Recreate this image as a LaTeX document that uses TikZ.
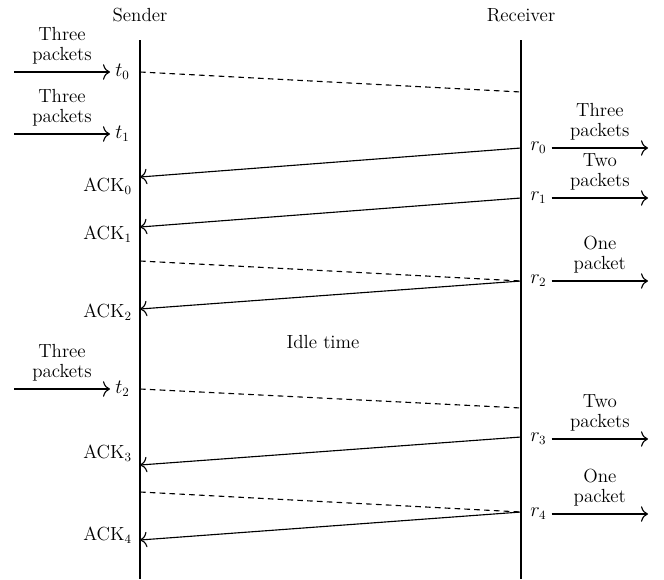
\documentclass[tikz,border=0pt]{standalone}
\usetikzlibrary{positioning}
\usetikzlibrary{arrows.meta}

\begin{document}
\begin{tikzpicture}[x=0.025cm, y=-0.025cm, line width=0.8pt,
    font=\fontsize{13.5}{14}\selectfont, >={To[length=5pt,width=11pt]}]
            \tikzset{
                msg/.style={->},
                ctrl/.style={dashed, dash pattern=on 4pt off 3pt},
                pkts/.style={midway, above=5.5pt, align=center, inner sep=0pt},
            }
            \useasboundingbox (0,0) rectangle (664,579);

            % Lanes
            \node (sender) at (140,15) {Sender};
            \node (receiver) at (521,15) {Receiver};
            \coordinate (stop) at (140,40);
            \coordinate (sbot) at (140,579);
            \coordinate (rtop) at (521,40);
            \coordinate (rbot) at (521,579);
            \draw (stop) -- (sbot);
            \draw (rtop) -- (rbot);

            % Sender side
            \node[anchor=west] (t0) at (110,72) {$t_0$};
            \node[anchor=west] (t1) at (110,134) {$t_1$};
            \node[anchor=west] (t2) at (110,389) {$t_2$};
            \coordinate (in0) at (14,72);
            \coordinate (in1) at (14,134);
            \coordinate (in2) at (14,389);
            \draw[msg] (in0) -- (t0) node[pkts] {Three\\packets};
            \draw[msg] (in1) -- (t1) node[pkts] {Three\\packets};
            \draw[msg] (in2) -- (t2) node[pkts] {Three\\packets};

            \node[anchor=east] (ack0) at (137,186) {ACK$_0$};
            \node[anchor=east] (ack1) at (137,234) {ACK$_1$};
            \node[anchor=east] (ack2) at (137,312) {ACK$_2$};
            \node[anchor=east] (ack3) at (137,453) {ACK$_3$};
            \node[anchor=east] (ack4) at (137,535) {ACK$_4$};
            \coordinate (a0) at (140,177);
            \coordinate (a1) at (140,227);
            \coordinate (a2) at (140,309);
            \coordinate (a3) at (140,465);
            \coordinate (a4) at (140,540);

            % Receiver side
            \node[anchor=west] (r0) at (525,148) {$r_0$};
            \node[anchor=west] (r1) at (525,198) {$r_1$};
            \node[anchor=west] (r2) at (525,281) {$r_2$};
            \node[anchor=west] (r3) at (525,439) {$r_3$};
            \node[anchor=west] (r4) at (525,514) {$r_4$};
            \coordinate (out0) at (648,148);
            \coordinate (out1) at (648,198);
            \coordinate (out2) at (648,281);
            \coordinate (out3) at (648,439);
            \coordinate (out4) at (648,514);
            \draw[msg] (r0) -- (out0) node[pkts] {Three\\packets};
            \draw[msg] (r1) -- (out1) node[pkts] {Two\\packets};
            \draw[msg] (r2) -- (out2) node[pkts] {One\\packet};
            \draw[msg] (r3) -- (out3) node[pkts] {Two\\packets};
            \draw[msg] (r4) -- (out4) node[pkts] {One\\packet};
            \coordinate (b0) at (521,148);
            \coordinate (b1) at (521,198);
            \coordinate (b2) at (521,281);
            \coordinate (b3) at (521,437);
            \coordinate (b4) at (521,512);

            % Data (dashed) and ACKs
            \coordinate (d0) at (140,72);
            \coordinate (d1) at (140,261);
            \coordinate (d2) at (140,389);
            \coordinate (d3) at (140,492);
            \coordinate (e0) at (521,92);
            \coordinate (e2) at (521,408);
            \draw[ctrl] (d0) -- (e0);
            \draw[ctrl] (d1) -- (b2);
            \draw[ctrl] (d2) -- (e2);
            \draw[ctrl] (d3) -- (b4);

            \draw[msg] (b0) -- (a0);
            \draw[msg] (b1) -- (a1);
            \draw[msg] (b2) -- (a2);
            \draw[msg] (b3) -- (a3);
            \draw[msg] (b4) -- (a4);

            \node (idle) at (323,342) {Idle time};
        \end{tikzpicture}
\end{document}
